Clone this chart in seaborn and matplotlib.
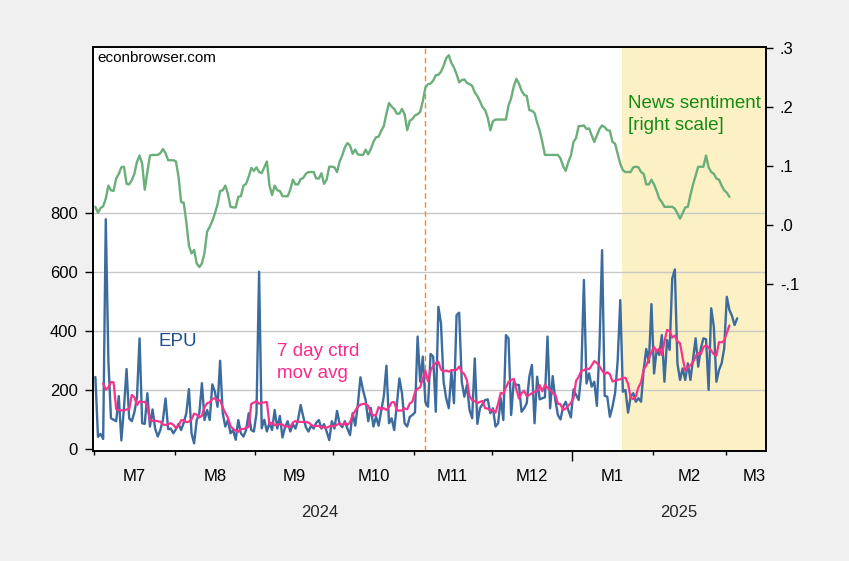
import numpy as np
import pandas as pd
import matplotlib
matplotlib.use("Agg")
import matplotlib.pyplot as plt
import matplotlib.dates as mdates
import matplotlib.transforms as mtransforms
from matplotlib.ticker import FixedLocator, FuncFormatter, NullFormatter
import seaborn as sns

# ---------------- data (daily, starting 2024-07-01) ----------------
epu_start = "2024-07-01"
epu = [
    245, 42, 52, 35, 780, 300, 105, 100, 95, 180,
    30, 140, 272, 105, 95, 125, 175, 376, 88, 86,
    190, 77, 135, 70, 43, 65, 100, 172, 68, 70,
    54, 68, 86, 65, 90, 122, 204, 54, 20, 99,
    122, 224, 99, 133, 99, 220, 195, 144, 300, 122,
    77, 99, 54, 65, 32, 99, 54, 43, 65, 122,
    65, 60, 122, 602, 71, 100, 60, 90, 65, 133,
    70, 113, 40, 75, 95, 60, 85, 70, 100, 150,
    110, 75, 60, 80, 70, 90, 99, 70, 85, 60,
    31, 95, 70, 130, 85, 75, 95, 70, 48, 122,
    80, 150, 244, 200, 167, 95, 140, 77, 110, 80,
    130, 180, 283, 88, 105, 65, 150, 240, 190, 88,
    77, 110, 116, 125, 382, 229, 314, 160, 144, 323,
    314, 127, 483, 427, 229, 173, 139, 263, 156, 455,
    463, 229, 178, 218, 133, 105, 308, 86, 139, 153,
    167, 169, 122, 139, 77, 88, 173, 99, 387, 376,
    116, 229, 218, 218, 127, 139, 156, 246, 286, 88,
    246, 169, 173, 176, 382, 139, 248, 167, 116, 101,
    144, 161, 133, 108, 203, 184, 167, 257, 574, 223,
    257, 212, 229, 147, 348, 675, 181, 178, 110, 144,
    190, 300, 506, 195, 201, 124, 178, 190, 161, 173,
    161, 269, 340, 294, 492, 257, 337, 320, 387, 229,
    370, 337, 579, 610, 291, 235, 274, 235, 291, 235,
    305, 376, 280, 342, 376, 373, 201, 478, 416, 229,
    269, 291, 342, 517, 472, 452, 421, 444,
]

sent_start = "2024-07-01"
sentiment = [
    0.031, 0.021, 0.029, 0.032, 0.045, 0.067, 0.059, 0.058, 0.079, 0.087,
    0.098, 0.099, 0.070, 0.069, 0.076, 0.087, 0.107, 0.118, 0.104, 0.060,
    0.090, 0.118, 0.119, 0.119, 0.119, 0.122, 0.129, 0.122, 0.110, 0.110,
    0.110, 0.108, 0.082, 0.039, 0.038, 0.005, -0.035, -0.048, -0.042, -0.065,
    -0.071, -0.065, -0.047, -0.011, -0.003, 0.007, 0.020, 0.035, 0.058, 0.059,
    0.067, 0.053, 0.031, 0.030, 0.030, 0.048, 0.049, 0.067, 0.070, 0.082,
    0.097, 0.092, 0.098, 0.090, 0.088, 0.098, 0.108, 0.067, 0.051, 0.067,
    0.059, 0.058, 0.049, 0.049, 0.049, 0.060, 0.077, 0.069, 0.069, 0.078,
    0.080, 0.087, 0.090, 0.090, 0.090, 0.079, 0.079, 0.088, 0.070, 0.077,
    0.099, 0.099, 0.098, 0.090, 0.108, 0.118, 0.132, 0.139, 0.135, 0.121,
    0.128, 0.120, 0.119, 0.119, 0.128, 0.120, 0.129, 0.141, 0.149, 0.150,
    0.160, 0.168, 0.189, 0.207, 0.201, 0.197, 0.189, 0.189, 0.197, 0.188,
    0.161, 0.177, 0.180, 0.186, 0.188, 0.192, 0.210, 0.233, 0.239, 0.240,
    0.245, 0.254, 0.255, 0.260, 0.270, 0.283, 0.288, 0.275, 0.267, 0.256,
    0.242, 0.246, 0.247, 0.241, 0.239, 0.236, 0.225, 0.219, 0.210, 0.200,
    0.195, 0.182, 0.161, 0.176, 0.179, 0.179, 0.179, 0.179, 0.179, 0.203,
    0.215, 0.235, 0.248, 0.240, 0.228, 0.221, 0.219, 0.195, 0.194, 0.190,
    0.174, 0.160, 0.141, 0.119, 0.119, 0.119, 0.119, 0.119, 0.119, 0.113,
    0.100, 0.092, 0.107, 0.118, 0.141, 0.148, 0.168, 0.168, 0.169, 0.163,
    0.164, 0.152, 0.141, 0.152, 0.163, 0.169, 0.166, 0.161, 0.160, 0.141,
    0.138, 0.121, 0.104, 0.093, 0.090, 0.090, 0.090, 0.098, 0.099, 0.098,
    0.090, 0.087, 0.069, 0.069, 0.077, 0.069, 0.058, 0.045, 0.039, 0.031,
    0.031, 0.031, 0.031, 0.028, 0.020, 0.011, 0.020, 0.030, 0.031, 0.051,
    0.069, 0.084, 0.099, 0.099, 0.099, 0.118, 0.098, 0.090, 0.087, 0.079,
    0.077, 0.067, 0.059, 0.055, 0.048,
]

month_labels = ["M7", "M8", "M9", "M10", "M11", "M12", "M1", "M2", "M3"]
month_label_dates = ["2024-07-16 12:00", "2024-08-16 12:00", "2024-09-16 00:00",
                     "2024-10-16 12:00", "2024-11-16 00:00", "2024-12-16 12:00",
                     "2025-01-16 12:00", "2025-02-15 00:00", "2025-03-12 00:00"]
year_labels = ["2024", "2025"]
year_label_dates = ["2024-09-26", "2025-02-11"]
election_date = "2024-11-05 12:00"
inauguration_date = "2025-01-20"
x_range = ["2024-06-30 14:00", "2025-03-16 14:00"]

# ---------------- frames ----------------
epu_df = pd.DataFrame({
    "date": pd.date_range(epu_start + " 12:00", periods=len(epu), freq="D"),
    "EPU": epu,
})
epu_df["MA7"] = epu_df["EPU"].rolling(7, center=True).mean()
sent_df = pd.DataFrame({
    "date": pd.date_range(sent_start + " 12:00", periods=len(sentiment), freq="D"),
    "sentiment": sentiment,
})

# ---------------- style ----------------
sns.set_theme(style="white")
plt.rcParams["font.family"] = ["Liberation Sans", "DejaVu Sans"]

fig = plt.figure(figsize=(8.49, 5.61), dpi=100, facecolor="#f0f0f0")
ax = fig.add_axes([93 / 849, 1 - 451 / 561, 673 / 849, 404 / 561])
ax.set_facecolor("white")

x0, x1 = pd.Timestamp(x_range[0]), pd.Timestamp(x_range[1])
ax.axvspan(pd.Timestamp(inauguration_date), x1, color="#fcf1c4", lw=0, zorder=0)
ax.axvline(pd.Timestamp(election_date), color="#ec8a2e", lw=1.0,
           ls=(0, (4, 2.5)), zorder=1)

sns.lineplot(data=epu_df, x="date", y="EPU", ax=ax, color="#3c6b9e",
             lw=1.7, zorder=3)
sns.lineplot(data=epu_df, x="date", y="MA7", ax=ax, color="#f7338b",
             lw=1.6, zorder=4)

ax.set_xlim(x0, x1)
ax.set_ylim(-6, 1364)
ax.set_yticks([0, 200, 400, 600, 800])
ax.yaxis.grid(True, color="#c8c8c8", lw=1.0)
ax.xaxis.grid(False)
ax.set_axisbelow(True)
ax.get_ygridlines()[0].set_visible(False)

ax2 = ax.twinx()
sns.lineplot(data=sent_df, x="date", y="sentiment", ax=ax2, color="#6aae79",
             lw=1.7)
ax2.set_ylim((-6 - 760) / 2000, (1364 - 760) / 2000)
ax2.set_yticks([-0.1, 0.0, 0.1, 0.2, 0.3])


def fmt_right(v, pos):
    s = f"{v:.1f}"
    return s.replace("0.", ".")


ax2.yaxis.set_major_formatter(FuncFormatter(fmt_right))
ax2.set_xlim(x0, x1)

for a in (ax, ax2):
    a.set_xlabel("")
    a.set_ylabel("")
    for sp in a.spines.values():
        sp.set_color("black")
        sp.set_linewidth(1.2)

# x ticks: month starts (short), labels centred in months
month_starts = pd.date_range("2024-07-01", "2025-03-01", freq="MS")
ax.xaxis.set_major_locator(FixedLocator(mdates.date2num(month_starts)))
ax.xaxis.set_major_formatter(NullFormatter())
ax.xaxis.set_minor_locator(FixedLocator(mdates.date2num(pd.to_datetime(month_label_dates))))
ax.xaxis.set_minor_formatter(FixedFormatter := FuncFormatter(
    lambda v, pos: month_labels[pos] if pos is not None and pos < len(month_labels) else ""))
ax.tick_params(axis="x", which="major", direction="out", length=3.2, width=1.0,
               color="black", bottom=True)
ax.tick_params(axis="x", which="minor", length=0, pad=13, labelsize=12,
               labelcolor="black", bottom=True)
ax.tick_params(axis="y", direction="out", length=6, width=1.0, color="black",
               pad=5, labelsize=12, labelcolor="black", left=True)
ax2.tick_params(axis="y", direction="out", length=5, width=1.0, color="black",
                pad=5, labelsize=12, labelcolor="black", right=True)

for tk, d in zip(ax.xaxis.get_major_ticks(), month_starts):
    if d.month == 1:
        tk.tick1line.set_markersize(7.5)

trans = mtransforms.blended_transform_factory(ax.transData, ax.transAxes)
for lab, d in zip(year_labels, year_label_dates):
    ax.text(pd.Timestamp(d), -0.151, lab, transform=trans, ha="center",
            va="center", fontsize=12, clip_on=False)

ax.text(0.006, 0.973, "econbrowser.com", transform=ax.transAxes, fontsize=11,
        ha="left", va="center", color="black")
ax.text(0.0966, 0.272, "EPU", transform=ax.transAxes, fontsize=13.5,
        ha="left", va="center", color="#1f4f8f")
ax.text(0.273, 0.219, "7 day ctrd\nmov avg", transform=ax.transAxes,
        fontsize=13.5, ha="left", va="center", color="#fa2a8c", linespacing=1.35)
ax.text(0.795, 0.833, "News sentiment\n[right scale]", transform=ax.transAxes,
        fontsize=13.5, ha="left", va="center", color="#138a13", linespacing=1.35)

fig.savefig("out.png", dpi=100, facecolor=fig.get_facecolor())
